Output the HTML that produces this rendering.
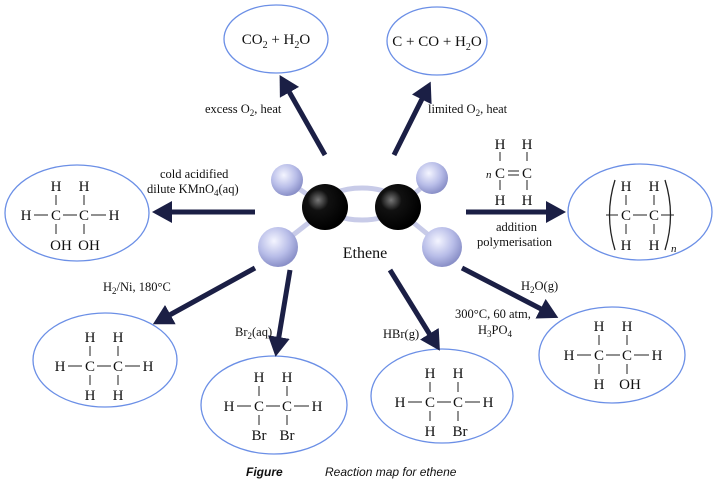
<!DOCTYPE html>
<html><head><meta charset="utf-8"><style>
html,body{margin:0;padding:0;background:#fff;}
svg{display:block;}
text{font-family:"Liberation Serif",serif;fill:#111;}
.s{font-size:15px;text-anchor:middle;}
.l{font-size:12.5px;}
</style></head><body>
<svg width="717" height="487" viewBox="0 0 717 487" xmlns="http://www.w3.org/2000/svg">
<defs>
<marker id="ah" markerWidth="4" markerHeight="4.4" refX="1" refY="2.2" orient="auto" markerUnits="strokeWidth">
<path d="M0,0 L4,2.2 L0,4.4 z" fill="#1b1f45"/></marker>
<radialGradient id="gb" cx="35%" cy="35%" r="65%"><stop offset="0" stop-color="#777"/><stop offset="0.35" stop-color="#111"/><stop offset="1" stop-color="#000"/></radialGradient>
<radialGradient id="gl" cx="40%" cy="35%" r="65%"><stop offset="0" stop-color="#f4f5ff"/><stop offset="0.6" stop-color="#b8bde8"/><stop offset="1" stop-color="#8a90c8"/></radialGradient>
<g id="sk">
<g stroke="#222" stroke-width="1">
<line x1="0" y1="-20" x2="0" y2="-10"/><line x1="28" y1="-20" x2="28" y2="-10"/>
<line x1="0" y1="9" x2="0" y2="19"/><line x1="28" y1="9" x2="28" y2="19"/>
<line x1="-22" y1="0" x2="-8" y2="0"/><line x1="7" y1="0" x2="21" y2="0"/><line x1="35" y1="0" x2="50" y2="0"/>
</g>
<text class="s" x="0" y="-24">H</text><text class="s" x="28" y="-24">H</text>
<text class="s" x="-30" y="5">H</text><text class="s" x="0" y="5">C</text><text class="s" x="28" y="5">C</text><text class="s" x="58" y="5">H</text>
</g>
</defs>
<g fill="none" stroke="#6b8fe6" stroke-width="1.3">
<ellipse cx="276" cy="39" rx="52" ry="34"/>
<ellipse cx="437" cy="41" rx="50" ry="34"/>
<ellipse cx="77" cy="213" rx="72" ry="48"/>
<ellipse cx="640" cy="212" rx="72" ry="48"/>
<ellipse cx="105" cy="360" rx="72" ry="47"/>
<ellipse cx="274" cy="405" rx="73" ry="49"/>
<ellipse cx="442" cy="396" rx="71" ry="47"/>
<ellipse cx="612" cy="355" rx="73" ry="48"/>
</g>
<g stroke="#1b1f45" stroke-width="5" marker-end="url(#ah)">
<line x1="325" y1="155" x2="287" y2="88"/>
<line x1="394" y1="155" x2="424" y2="95"/>
<line x1="255" y1="212" x2="167" y2="212"/>
<line x1="466" y1="212" x2="551" y2="212"/>
<line x1="255" y1="268" x2="166" y2="317"/>
<line x1="290" y1="270" x2="278" y2="342"/>
<line x1="390" y1="270" x2="432" y2="338"/>
<line x1="462" y1="268" x2="545" y2="311"/>
</g>
<!-- molecule -->
<g stroke="#c8cbe8" stroke-width="5" fill="none">
<ellipse cx="362" cy="204" rx="37" ry="16"/>
<line x1="288" y1="181" x2="325" y2="207"/>
<line x1="279" y1="246" x2="325" y2="210"/>
<line x1="432" y1="179" x2="398" y2="207"/>
<line x1="442" y1="246" x2="398" y2="210"/>
</g>
<circle cx="325" cy="207" r="23" fill="url(#gb)"/>
<circle cx="398" cy="207" r="23" fill="url(#gb)"/>
<circle cx="287" cy="180" r="16" fill="url(#gl)"/>
<circle cx="278" cy="247" r="20" fill="url(#gl)"/>
<circle cx="432" cy="178" r="16" fill="url(#gl)"/>
<circle cx="442" cy="247" r="20" fill="url(#gl)"/>
<text x="365" y="258" class="s" style="font-size:16px">Ethene</text>
<!-- labels -->
<text x="276" y="44" class="s">CO<tspan font-size="10" dy="4">2</tspan><tspan dy="-4"> + H</tspan><tspan font-size="10" dy="4">2</tspan><tspan dy="-4">O</tspan></text>
<text x="437" y="46" class="s">C + CO + H<tspan font-size="10" dy="4">2</tspan><tspan dy="-4">O</tspan></text>
<text x="205" y="113" class="l">excess O<tspan font-size="9" dy="3">2</tspan><tspan dy="-3">, heat</tspan></text>
<text x="428" y="113" class="l">limited O<tspan font-size="9" dy="3">2</tspan><tspan dy="-3">, heat</tspan></text>
<text x="160" y="178" class="l">cold acidified</text>
<text x="147" y="193" class="l">dilute KMnO<tspan font-size="9" dy="3">4</tspan><tspan dy="-3">(aq)</tspan></text>
<text x="496" y="231" class="l">addition</text>
<text x="477" y="246" class="l">polymerisation</text>
<text x="103" y="291" class="l">H<tspan font-size="9" dy="3">2</tspan><tspan dy="-3">/Ni, 180°C</tspan></text>
<text x="235" y="336" class="l">Br<tspan font-size="9" dy="3">2</tspan><tspan dy="-3">(aq)</tspan></text>
<text x="383" y="338" class="l">HBr(g)</text>
<text x="521" y="290" class="l">H<tspan font-size="9" dy="3">2</tspan><tspan dy="-3">O(g)</tspan></text>
<text x="455" y="318" class="l">300°C, 60 atm,</text>
<text x="478" y="334" class="l">H<tspan font-size="9" dy="3">3</tspan><tspan dy="-3">PO</tspan><tspan font-size="9" dy="3">4</tspan></text>
<!-- structures -->
<g transform="translate(56,215)"><use href="#sk"/>
<text class="s" x="5" y="35">OH</text><text class="s" x="33" y="35">OH</text></g>
<g transform="translate(90,366)"><use href="#sk"/>
<text class="s" x="0" y="34">H</text><text class="s" x="28" y="34">H</text></g>
<g transform="translate(259,406)"><use href="#sk"/>
<text class="s" x="0" y="34">Br</text><text class="s" x="28" y="34">Br</text></g>
<g transform="translate(430,402)"><use href="#sk"/>
<text class="s" x="0" y="34">H</text><text class="s" x="30" y="34">Br</text></g>
<g transform="translate(599,355)"><use href="#sk"/>
<text class="s" x="0" y="34">H</text><text class="s" x="31" y="34">OH</text></g>
<!-- polymer -->
<g transform="translate(626,215)">
<g stroke="#222" stroke-width="1">
<line x1="0" y1="-20" x2="0" y2="-10"/><line x1="28" y1="-20" x2="28" y2="-10"/>
<line x1="0" y1="9" x2="0" y2="19"/><line x1="28" y1="9" x2="28" y2="19"/>
<line x1="-20" y1="0" x2="-8" y2="0"/><line x1="7" y1="0" x2="21" y2="0"/><line x1="35" y1="0" x2="48" y2="0"/>
</g>
<text class="s" x="0" y="-24">H</text><text class="s" x="28" y="-24">H</text>
<text class="s" x="0" y="5">C</text><text class="s" x="28" y="5">C</text>
<text class="s" x="0" y="35">H</text><text class="s" x="28" y="35">H</text>
<path d="M-11,-35 Q-22,0 -11,35" fill="none" stroke="#222" stroke-width="1.3"/>
<path d="M39,-35 Q50,0 39,35" fill="none" stroke="#222" stroke-width="1.3"/>
<text x="45" y="37" style="font-size:11px;font-style:italic">n</text>
</g>
<!-- monomer -->
<g stroke="#222" stroke-width="1">
<line x1="500" y1="152" x2="500" y2="161"/><line x1="527" y1="152" x2="527" y2="161"/>
<line x1="500" y1="180" x2="500" y2="190"/><line x1="527" y1="180" x2="527" y2="190"/>
<line x1="508" y1="171" x2="519" y2="171"/><line x1="508" y1="175" x2="519" y2="175"/>
</g>
<text class="s" x="500" y="149">H</text><text class="s" x="527" y="149">H</text>
<text x="486" y="178" style="font-size:11px;font-style:italic">n</text>
<text class="s" x="500" y="178">C</text><text class="s" x="527" y="178">C</text>
<text class="s" x="500" y="205">H</text><text class="s" x="527" y="205">H</text>
<text x="246" y="476" style="font-family:'Liberation Sans',sans-serif;font-size:12px;font-weight:bold;font-style:italic">Figure</text>
<text x="325" y="476" style="font-family:'Liberation Sans',sans-serif;font-size:12px;font-style:italic">Reaction map for ethene</text>
</svg>
</body></html>
